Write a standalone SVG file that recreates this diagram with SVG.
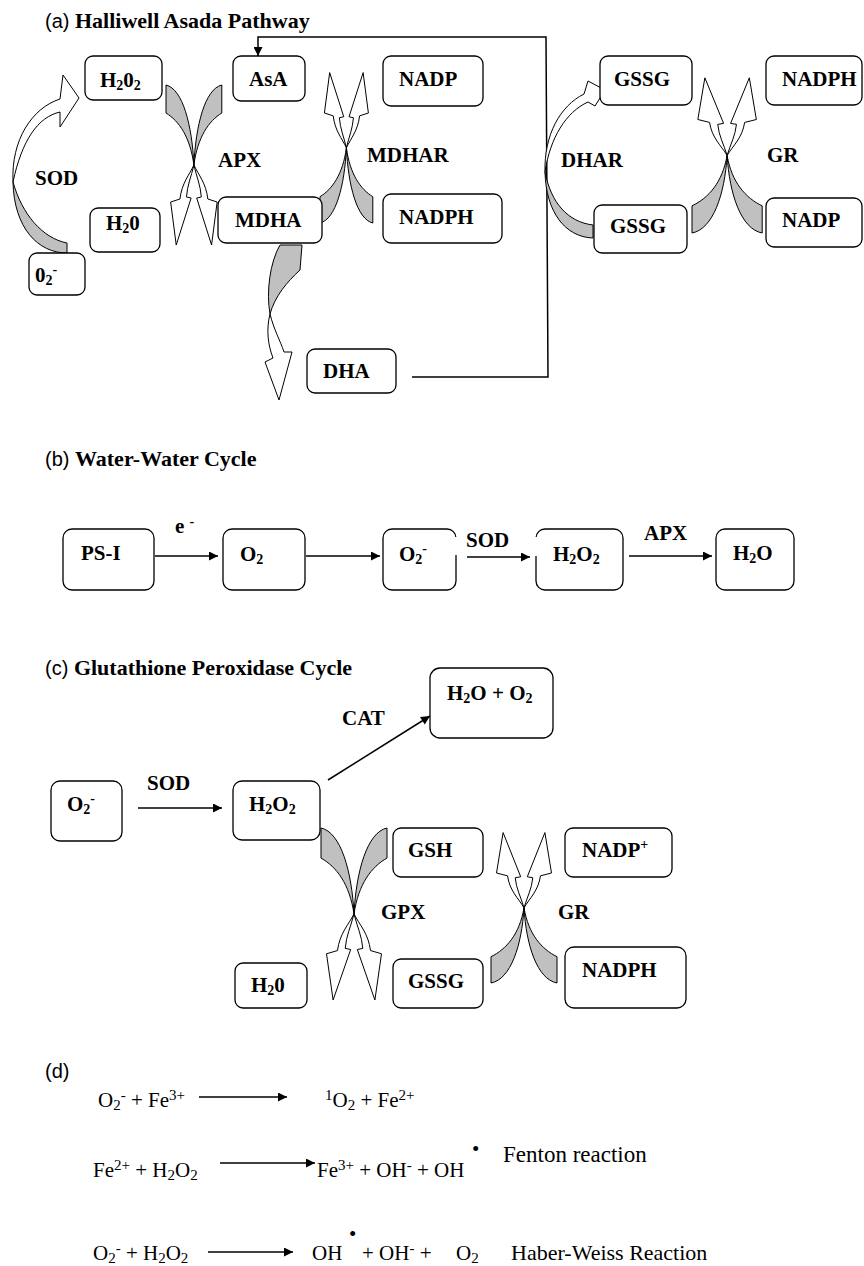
<svg xmlns="http://www.w3.org/2000/svg" width="864" height="1266" viewBox="0 0 864 1266">
<style>
.box{fill:#fff;stroke:#000;stroke-width:1.3}
.lb{font-family:"Liberation Serif",serif;font-weight:bold;font-size:21px;fill:#000}
.tt{font-family:"Liberation Serif",serif;font-weight:bold;font-size:22px}
.ts{font-family:"Liberation Sans",sans-serif;font-weight:normal;font-size:20px}
.eq{font-family:"Liberation Serif",serif;font-size:21px;fill:#000}
.s{font-size:14px}
.eq .s{font-size:15px}
.g{fill:#c0c0c0;stroke:#000;stroke-width:1;vector-effect:non-scaling-stroke}
.w{fill:#fff;stroke:#000;stroke-width:1;vector-effect:non-scaling-stroke}
.ln{stroke:#000;stroke-width:1.5;fill:none}
</style>
<defs>
<marker id="ah" viewBox="0 0 10 10" refX="10" refY="5" markerWidth="11" markerHeight="9" markerUnits="userSpaceOnUse" orient="auto"><path d="M0,0 L10,5 L0,10 Z" fill="#000"/></marker>
<g id="xcross">
<path class="g" d="M0,0 C18,4 28,40 30,80 C26,52 14,36 0,28 Z"/>
<path class="g" d="M60,0 C42,4 32,40 30,80 C34,52 46,36 60,28 Z"/>
<path class="w" d="M30,80 C25,90 17,98 15,114 L5,117 L11,160 L27,113 L22,112 C23,100 27,92 30,80 Z"/>
<path class="w" d="M30,80 C35,90 43,98 45,114 L55,117 L49,160 L33,113 L38,112 C37,100 33,92 30,80 Z"/>
</g>
</defs>
<rect width="864" height="1266" fill="#fff"/>

<!-- Titles -->
<text x="45" y="28"><tspan class="ts">(a) </tspan><tspan class="tt">Halliwell Asada Pathway</tspan></text>
<text x="45" y="466"><tspan class="ts">(b) </tspan><tspan class="tt">Water-Water Cycle</tspan></text>
<text x="45" y="675"><tspan class="ts">(c) </tspan><tspan class="tt">Glutathione Peroxidase Cycle</tspan></text>
<text x="45" y="1078" class="ts">(d)</text>

<!-- Connectors -->
<g id="connectors">
<path class="ln" stroke-width="1.3" d="M412,377 L548,377 L546,37 L258,37 L258,56" marker-end="url(#ah)"/>
<!-- (a) curved arrows -->
<path class="g" d="M67,243 L67,253 C38,253 14,228 13,182 C22,214 42,238 67,243 Z"/>
<path class="w" d="M13,182 C11,140 32,108 60,99 L63,75 L79,98 L60,127 L60,112 C38,117 22,140 13,182 Z"/>
<use href="#xcross" transform="translate(166,85) scale(0.93,1)"/>
<use href="#xcross" transform="translate(320,223) scale(0.88,-0.94)"/>
<path class="g" d="M280,245 L302,245 L300,270 C287,282 275,296 270,314 C266,292 270,262 280,245 Z"/>
<path class="w" d="M270,314 C266,330 268,345 273,358 L265,362 L279,400 L292,352 L284,352 C280,340 274,330 270,314 Z"/>
<path class="g" d="M593,225 L593,238 C565,237 546,212 545,172 C551,203 568,222 593,225 Z"/>
<path class="w" d="M545,172 C544,135 560,106 584,94 L588,81 L605,90 L595,106 L588,102 C566,112 550,138 545,172 Z"/>
<use href="#xcross" transform="translate(692,233) scale(1.17,-0.97)"/>
<!-- (b) -->
<line class="ln" x1="155" y1="556" x2="218" y2="556" marker-end="url(#ah)"/>
<line class="ln" x1="306" y1="556" x2="380" y2="556" marker-end="url(#ah)"/>
<line class="ln" x1="467" y1="557" x2="530" y2="557" marker-end="url(#ah)"/>
<line class="ln" x1="629" y1="556" x2="712" y2="556" marker-end="url(#ah)"/>
<!-- (c) -->
<line class="ln" x1="138" y1="808" x2="222" y2="808" marker-end="url(#ah)"/>
<line class="ln" x1="328" y1="780" x2="430" y2="716" marker-end="url(#ah)"/>
<use href="#xcross" transform="translate(321,828) scale(1.1,1.075)"/>
<use href="#xcross" transform="translate(491,983) scale(1.1,-0.94)"/>
<!-- (d) -->
<line class="ln" x1="199" y1="1097" x2="287" y2="1097" marker-end="url(#ah)"/>
<line class="ln" x1="220" y1="1163" x2="315" y2="1163" marker-end="url(#ah)"/>
<line class="ln" x1="208" y1="1252" x2="293" y2="1252" marker-end="url(#ah)"/>
</g>

<!-- (a) nodes -->
<g id="a_h2o2"><rect class="box" x="85" y="56" width="77" height="44" rx="8"/><text class="lb" x="100" y="87">H<tspan class="s" dy="3">2</tspan><tspan dy="-3">0</tspan><tspan class="s" dy="3">2</tspan></text></g>
<g id="a_asa"><rect class="box" x="233" y="56" width="72" height="45" rx="8"/><text class="lb" x="249" y="86">AsA</text></g>
<g id="a_nadp"><rect class="box" x="383" y="56" width="100" height="50" rx="8"/><text class="lb" x="399" y="86">NADP</text></g>
<g id="a_mdha"><rect class="box" x="218" y="197" width="104" height="46" rx="8"/><text class="lb" x="235" y="227">MDHA</text></g>
<g id="a_nadph"><rect class="box" x="383" y="194" width="119" height="49" rx="8"/><text class="lb" x="399" y="224">NADPH</text></g>
<g id="a_h2o"><rect class="box" x="90" y="208" width="70" height="44" rx="8"/><text class="lb" x="106" y="230">H<tspan class="s" dy="3">2</tspan><tspan dy="-3">0</tspan></text></g>
<g id="a_o2"><rect class="box" x="29" y="253" width="56" height="42" rx="8"/><text class="lb" x="35" y="282">0<tspan class="s" dy="3">2</tspan><tspan class="s" dy="-11">-</tspan></text></g>
<g id="a_dha"><rect class="box" x="307" y="349" width="89" height="44" rx="8"/><text class="lb" x="323" y="378">DHA</text></g>
<g id="a_gssg1"><rect class="box" x="600" y="56" width="92" height="49" rx="8"/><text class="lb" x="614" y="86">GSSG</text></g>
<g id="a_nadph2"><rect class="box" x="766" y="56" width="96" height="49" rx="8"/><text class="lb" x="782" y="86">NADPH</text></g>
<g id="a_gssg2"><rect class="box" x="594" y="205" width="93" height="48" rx="8"/><text class="lb" x="610" y="233">GSSG</text></g>
<g id="a_nadp2"><rect class="box" x="766" y="198" width="96" height="49" rx="8"/><text class="lb" x="782" y="227">NADP</text></g>
<g id="a_labels">
<text class="lb" x="35" y="185">SOD</text>
<text class="lb" x="218" y="167">APX</text>
<text class="lb" x="367" y="162">MDHAR</text>
<text class="lb" x="561" y="167">DHAR</text>
<text class="lb" x="767" y="162">GR</text>
</g>

<!-- (b) nodes -->
<g id="b_psi"><rect class="box" x="63" y="529" width="91" height="61" rx="9"/><text class="lb" x="81" y="560">PS-I</text></g>
<g id="b_o2"><rect class="box" x="223" y="529" width="82" height="61" rx="9"/><text class="lb" x="240" y="561">O<tspan class="s" dy="3">2</tspan></text></g>
<g id="b_o2m"><rect class="box" x="383" y="529" width="73" height="61" rx="9"/><rect x="452" y="537" width="8" height="18" fill="#fff"/><text class="lb" x="399" y="561">O<tspan class="s" dy="3">2</tspan><tspan class="s" dy="-11">-</tspan></text></g>
<g id="b_h2o2"><rect class="box" x="536" y="529" width="87" height="61" rx="9"/><rect x="532" y="537" width="8" height="19" fill="#fff"/><text class="lb" x="553" y="561">H<tspan class="s" dy="3">2</tspan><tspan dy="-3">O</tspan><tspan class="s" dy="3">2</tspan></text></g>
<g id="b_h2o"><rect class="box" x="716" y="529" width="78" height="61" rx="9"/><text class="lb" x="733" y="560">H<tspan class="s" dy="3">2</tspan><tspan dy="-3">O</tspan></text></g>
<g id="b_labels">
<text class="lb" x="175" y="533">e <tspan class="s" dy="-7">-</tspan></text>
<text class="lb" x="466" y="547">SOD</text>
<text class="lb" x="644" y="540">APX</text>
</g>

<!-- (c) nodes -->
<g id="c_o2"><rect class="box" x="51" y="781" width="71" height="60" rx="9"/><text class="lb" x="67" y="811">O<tspan class="s" dy="3">2</tspan><tspan class="s" dy="-11">-</tspan></text></g>
<g id="c_h2o2"><rect class="box" x="233" y="781" width="87" height="59" rx="9"/><text class="lb" x="249" y="811">H<tspan class="s" dy="3">2</tspan><tspan dy="-3">O</tspan><tspan class="s" dy="3">2</tspan></text></g>
<g id="c_h2oo2"><rect class="box" x="430" y="668" width="123" height="70" rx="10"/><text class="lb" x="447" y="700">H<tspan class="s" dy="3">2</tspan><tspan dy="-3">O + O</tspan><tspan class="s" dy="3">2</tspan></text></g>
<g id="c_gsh"><rect class="box" x="393" y="828" width="90" height="49" rx="8"/><text class="lb" x="408" y="857">GSH</text></g>
<g id="c_nadpp"><rect class="box" x="565" y="828" width="107" height="49" rx="8"/><text class="lb" x="582" y="857">NADP<tspan class="s" dy="-8">+</tspan></text></g>
<g id="c_h2o"><rect class="box" x="235" y="963" width="72" height="45" rx="8"/><text class="lb" x="251" y="992">H<tspan class="s" dy="3">2</tspan><tspan dy="-3">0</tspan></text></g>
<g id="c_gssg"><rect class="box" x="393" y="959" width="90" height="49" rx="8"/><text class="lb" x="408" y="988">GSSG</text></g>
<g id="c_nadph"><rect class="box" x="565" y="947" width="121" height="61" rx="9"/><text class="lb" x="582" y="977">NADPH</text></g>
<g id="c_labels">
<text class="lb" x="147" y="790">SOD</text>
<text class="lb" x="342" y="725">CAT</text>
<text class="lb" x="381" y="919">GPX</text>
<text class="lb" x="558" y="919">GR</text>
</g>

<!-- (d) equations -->
<g id="d_eq">
<text class="eq" x="98" y="1107">O<tspan class="s" dy="3">2</tspan><tspan class="s" dy="-10">-</tspan><tspan dy="7"> + Fe</tspan><tspan class="s" dy="-7">3+</tspan></text>
<text class="eq" x="325" y="1107"><tspan class="s" dy="-7">1</tspan><tspan dy="7">O</tspan><tspan class="s" dy="3">2</tspan><tspan dy="-3"> + Fe</tspan><tspan class="s" dy="-7">2+</tspan></text>
<text class="eq" x="93" y="1177">Fe<tspan class="s" dy="-7">2+</tspan><tspan dy="7"> + H</tspan><tspan class="s" dy="3">2</tspan><tspan dy="-3">O</tspan><tspan class="s" dy="3">2</tspan></text>
<text class="eq" x="317" y="1177">Fe<tspan class="s" dy="-7">3+</tspan><tspan dy="7"> + OH</tspan><tspan class="s" dy="-7">-</tspan><tspan dy="7"> + OH</tspan></text>
<text class="eq" x="472" y="1156">•</text>
<text class="eq" x="503" y="1162" style="font-size:23px">Fenton reaction</text>
<text class="eq" x="93" y="1260">O<tspan class="s" dy="3">2</tspan><tspan class="s" dy="-10">-</tspan><tspan dy="7"> + H</tspan><tspan class="s" dy="3">2</tspan><tspan dy="-3">O</tspan><tspan class="s" dy="3">2</tspan></text>
<text class="eq" x="312" y="1260">OH</text>
<text class="eq" x="349" y="1241">•</text>
<text class="eq" x="362" y="1260">+ OH<tspan class="s" dy="-7">-</tspan><tspan dy="7"> +</tspan></text>
<text class="eq" x="456" y="1260">O<tspan class="s" dy="3">2</tspan></text>
<text class="eq" x="511" y="1260" style="font-size:22px">Haber-Weiss Reaction</text>
</g>
</svg>
